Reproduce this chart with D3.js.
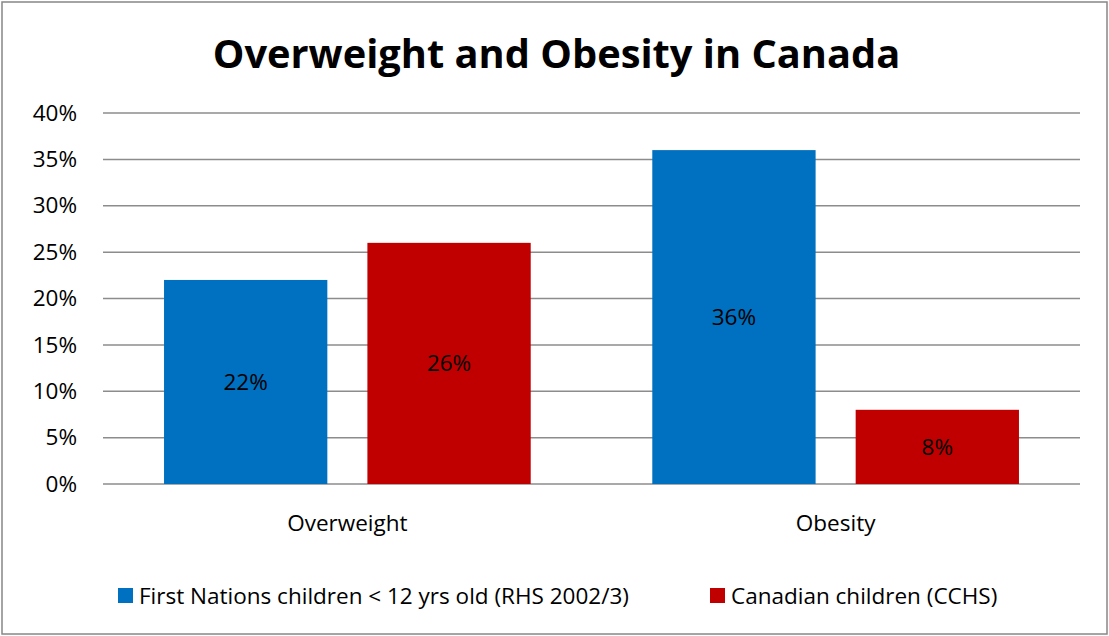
<!DOCTYPE html>
<html lang="en">
<head>
    <meta charset="UTF-8">
    <title>Overweight and Obesity in Canada</title>
    <script src="https://d3js.org/d3.v7.min.js"></script>
    <style>
        body { margin: 0; background: #fff; }
        text { font-family: "Open Sans", "Noto Sans", sans-serif; fill: #000; }
        .grid line { stroke: #8c8c8c; stroke-width: 1.5; }
    </style>
</head>
<body>
    <svg id="chart" width="1109" height="636"></svg>

    <script>
        const categories = ['Overweight', 'Obesity'];
        const seriesNames = ['First Nations children < 12 yrs old (RHS 2002/3)', 'Canadian children (CCHS)'];
        const firstNations = [22, 36];
        const canadian = [26, 8];
        const yTicks = [0, 5, 10, 15, 20, 25, 30, 35, 40];
        const colors = ['#0070c0', '#c00000'];

        const svg = d3.select('#chart');
        const width = +svg.attr('width');
        const height = +svg.attr('height');
        const margin = { top: 113, right: 29, bottom: 152, left: 103 };
        const fontSize = '22.5px';

        // outer frame
        svg.append('rect')
            .attr('x', 2).attr('y', 2)
            .attr('width', width - 4).attr('height', height - 4)
            .attr('fill', 'none')
            .attr('stroke', '#878787')
            .attr('stroke-width', 1.5);

        svg.append('text')
            .attr('x', width / 2 + 2)
            .attr('y', 68)
            .attr('text-anchor', 'middle')
            .style('font-size', '39.8px')
            .style('font-weight', 'bold')
            .text('Overweight and Obesity in Canada');

        const x0 = d3.scaleBand()
            .domain(categories)
            .range([margin.left, width - margin.right])
            .paddingInner(0.249)
            .paddingOuter(0.125);

        const x1 = d3.scaleBand()
            .domain(d3.range(seriesNames.length))
            .range([0, x0.bandwidth()])
            .paddingInner(0.197);

        const y = d3.scaleLinear()
            .domain([0, 40])
            .range([height - margin.bottom, margin.top]);

        // gridlines
        const grid = svg.append('g').attr('class', 'grid');
        grid.selectAll('line')
            .data(yTicks)
            .join('line')
            .attr('x1', margin.left)
            .attr('x2', width - margin.right)
            .attr('y1', d => y(d))
            .attr('y2', d => y(d));

        // y axis labels
        const yAxis = d3.axisLeft(y)
            .tickValues(yTicks)
            .tickFormat(d => d + '%')
            .tickSize(0)
            .tickPadding(26);
        const yg = svg.append('g')
            .attr('transform', `translate(${margin.left},0)`)
            .call(yAxis);
        yg.select('.domain').remove();
        yg.selectAll('text').style('font-size', fontSize);

        const rows = categories.map((c, i) => ({ cat: c, values: [firstNations[i], canadian[i]] }));

        const groups = svg.append('g').selectAll('g')
            .data(rows)
            .join('g')
            .attr('transform', d => `translate(${x0(d.cat)},0)`);

        groups.selectAll('rect')
            .data(d => d.values)
            .join('rect')
            .attr('x', (d, i) => x1(i))
            .attr('width', x1.bandwidth())
            .attr('y', d => y(d))
            .attr('height', d => y(0) - y(d))
            .attr('fill', (d, i) => colors[i]);

        groups.selectAll('text.val')
            .data(d => d.values)
            .join('text')
            .attr('class', 'val')
            .attr('x', (d, i) => x1(i) + x1.bandwidth() / 2)
            .attr('y', d => (y(d) + y(0)) / 2)
            .attr('dy', '0.35em')
            .attr('text-anchor', 'middle')
            .style('font-size', fontSize)
            .text(d => d + '%');

        // category axis
        const xg = svg.append('g')
            .attr('transform', `translate(0,${y(0)})`)
            .call(d3.axisBottom(x0).tickSize(0).tickPadding(31));
        xg.select('.domain').remove();
        xg.selectAll('text').style('font-size', fontSize);

        // legend
        const legendItems = [
            { name: seriesNames[0], color: colors[0], x: 118 },
            { name: seriesNames[1], color: colors[1], x: 710 }
        ];
        const legend = svg.append('g').selectAll('g')
            .data(legendItems)
            .join('g')
            .attr('transform', d => `translate(${d.x},588)`);
        legend.append('rect')
            .attr('width', 15).attr('height', 15)
            .attr('fill', d => d.color);
        legend.append('text')
            .attr('x', 21)
            .attr('y', 8)
            .attr('dy', '0.35em')
            .style('font-size', fontSize)
            .text(d => d.name);
    </script>
</body>
</html>
